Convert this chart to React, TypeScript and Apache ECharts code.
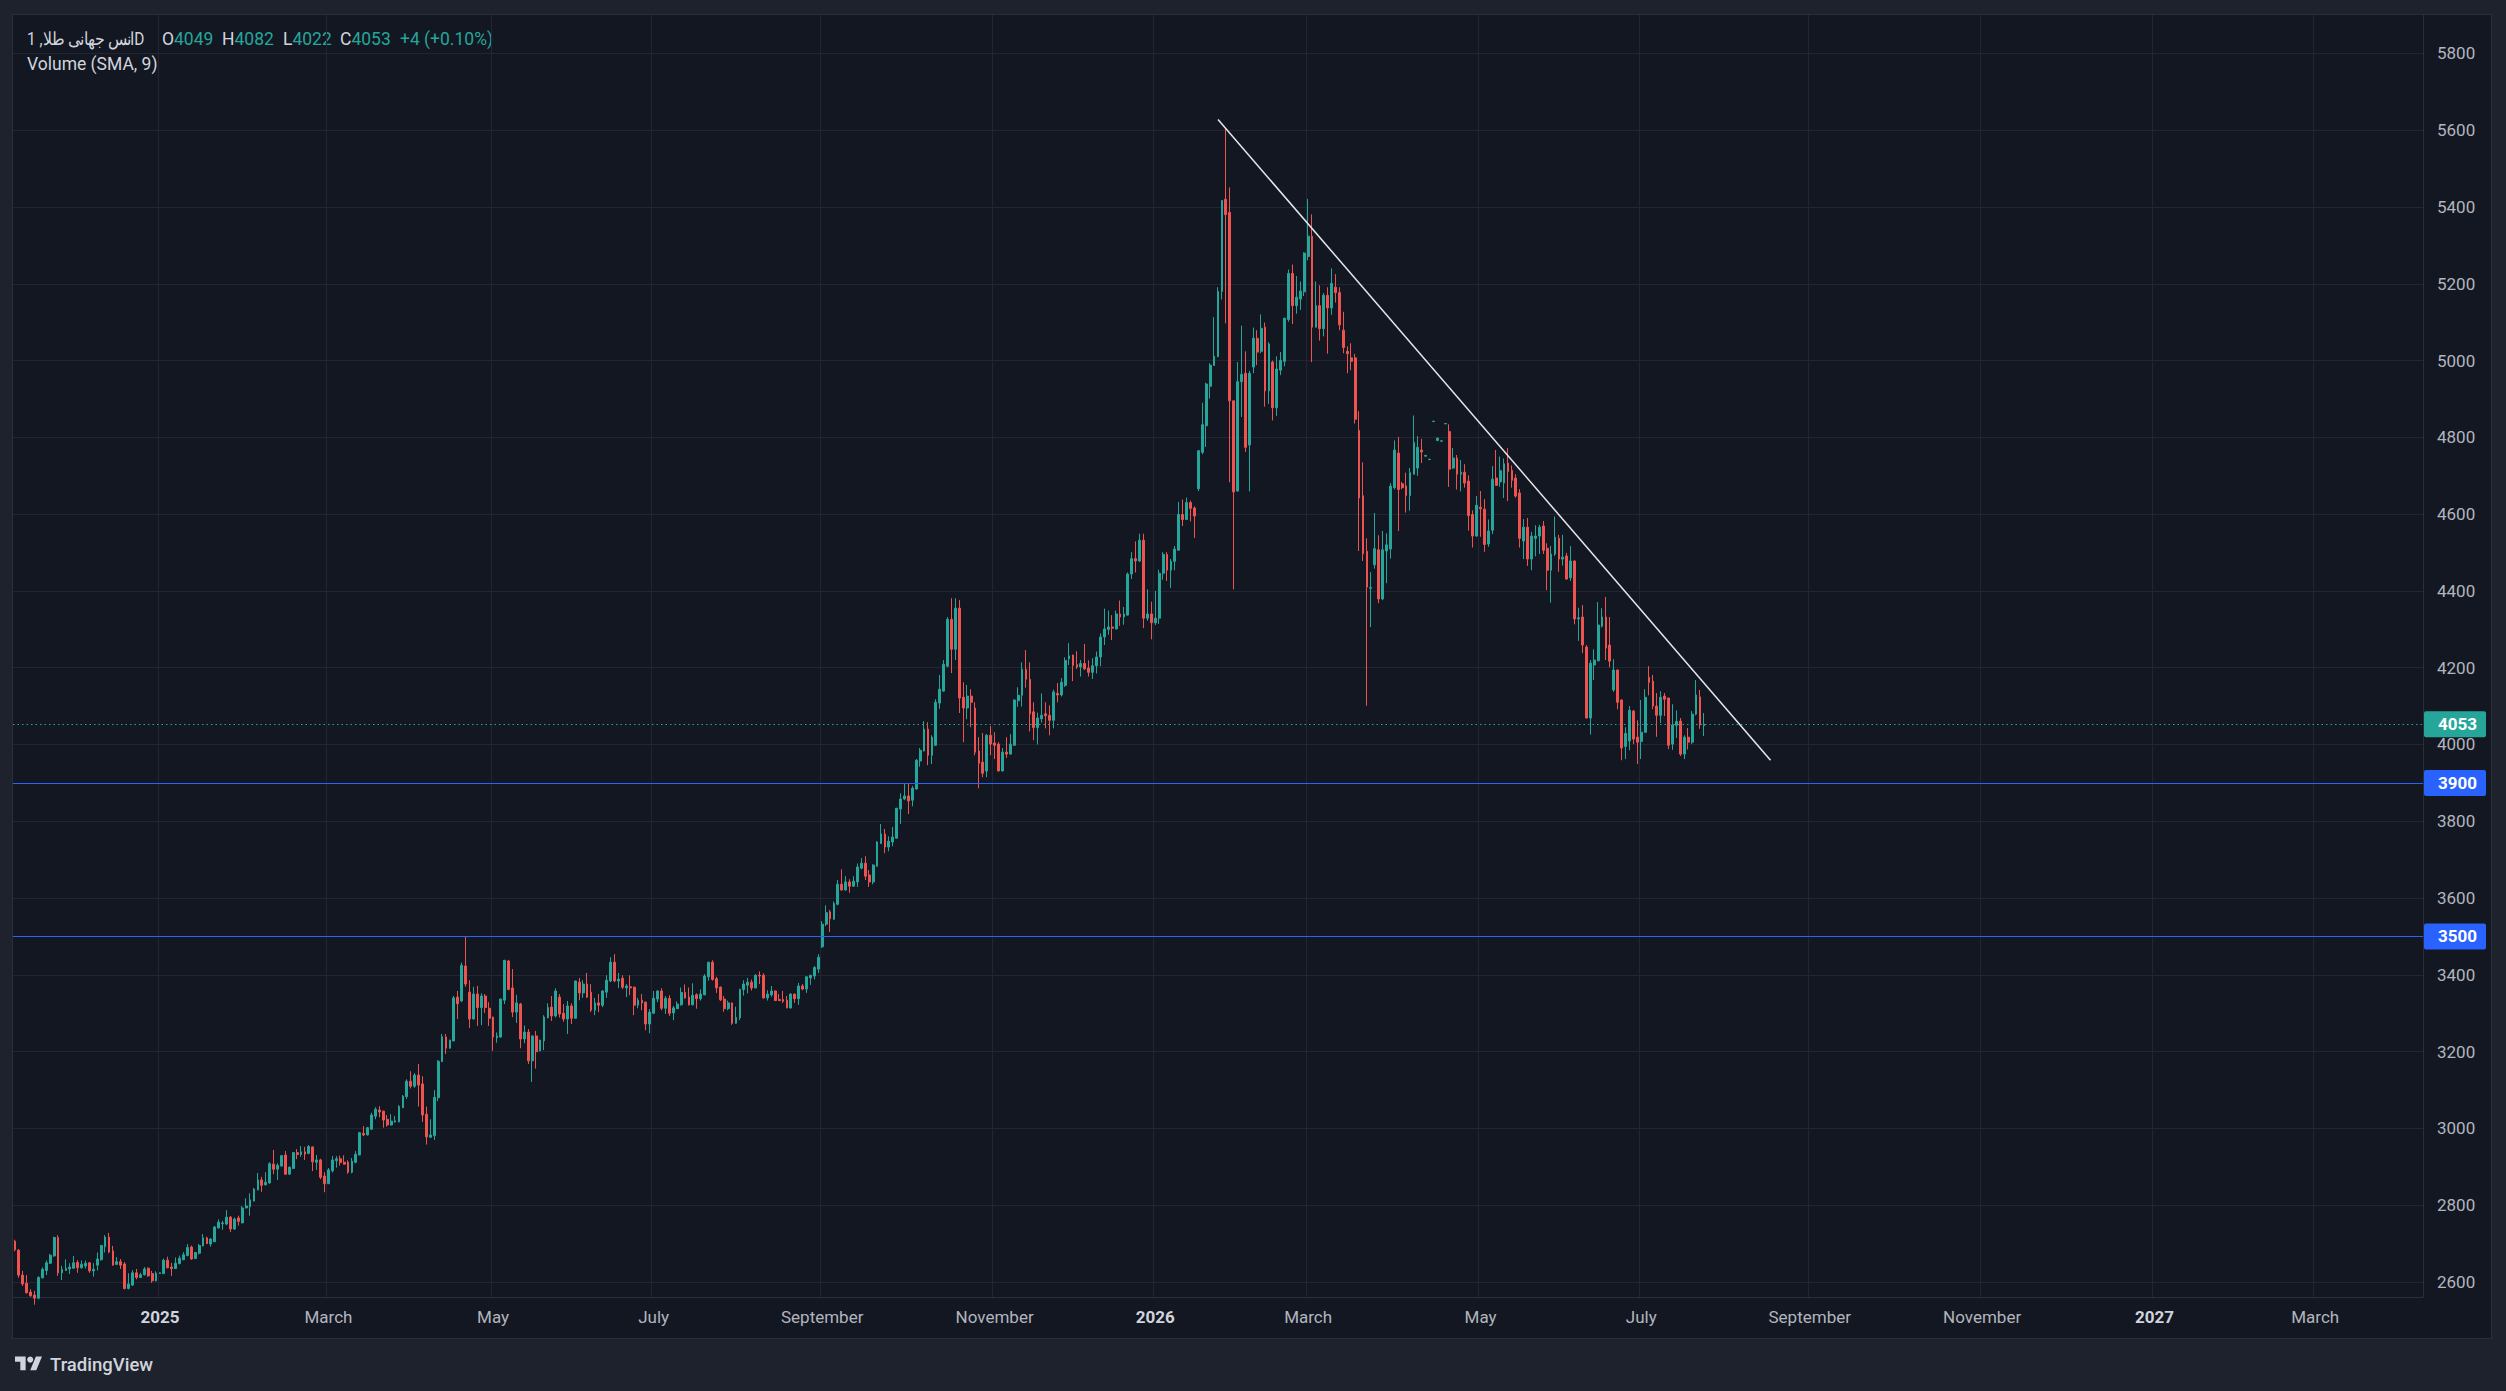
import React, { useEffect, useRef } from "react";
import * as echarts from "echarts";

// [open, high, low, close] per daily bar, index 0 = first (partial) bar at left edge
const CANDLES_A: number[][] = [
  [2706, 2710, 2680, 2684], [2683, 2686, 2611, 2618], [2618, 2629, 2590, 2595], [2597, 2618, 2570, 2572],
  [2574, 2581, 2562, 2564], [2566, 2577, 2541, 2558], [2558, 2615, 2555, 2612], [2611, 2638, 2609, 2633],
  [2630, 2656, 2618, 2650], [2649, 2673, 2647, 2670], [2668, 2718, 2666, 2716], [2716, 2722, 2616, 2624],
  [2624, 2642, 2605, 2633], [2630, 2659, 2629, 2636], [2634, 2649, 2621, 2639], [2636, 2668, 2635, 2650],
  [2651, 2657, 2624, 2637], [2637, 2656, 2635, 2646], [2642, 2656, 2635, 2649], [2650, 2652, 2624, 2629],
  [2629, 2649, 2614, 2633], [2644, 2677, 2630, 2660], [2658, 2697, 2656, 2695], [2692, 2722, 2677, 2717],
  [2717, 2728, 2675, 2678], [2681, 2694, 2643, 2644], [2646, 2665, 2644, 2653], [2653, 2660, 2634, 2644],
  [2647, 2652, 2581, 2583], [2583, 2623, 2581, 2595], [2592, 2631, 2590, 2624], [2624, 2634, 2607, 2612],
  [2612, 2624, 2611, 2619], [2619, 2639, 2617, 2634], [2636, 2638, 2614, 2616], [2622, 2629, 2598, 2603],
  [2603, 2628, 2602, 2623], [2622, 2625, 2621, 2624], [2622, 2661, 2621, 2657], [2657, 2666, 2636, 2637],
  [2639, 2650, 2616, 2635], [2635, 2664, 2634, 2649], [2648, 2669, 2646, 2662], [2658, 2678, 2657, 2671],
  [2669, 2699, 2667, 2690], [2691, 2695, 2658, 2660], [2661, 2678, 2660, 2677], [2675, 2699, 2672, 2695],
  [2694, 2725, 2693, 2715], [2715, 2718, 2699, 2700], [2699, 2714, 2692, 2712], [2705, 2746, 2704, 2743],
  [2741, 2763, 2739, 2756], [2752, 2759, 2736, 2754], [2751, 2787, 2748, 2769], [2769, 2772, 2730, 2738],
  [2738, 2768, 2736, 2764], [2767, 2773, 2747, 2758], [2754, 2798, 2753, 2793], [2793, 2818, 2792, 2798],
  [2796, 2831, 2773, 2814], [2811, 2845, 2810, 2842], [2840, 2884, 2839, 2866], [2866, 2874, 2835, 2852],
  [2853, 2886, 2852, 2860], [2858, 2912, 2856, 2908], [2907, 2944, 2881, 2894], [2894, 2909, 2866, 2904],
  [2902, 2931, 2901, 2929], [2931, 2941, 2879, 2881], [2881, 2901, 2879, 2899], [2896, 2939, 2894, 2937],
  [2937, 2946, 2920, 2932], [2932, 2954, 2926, 2939], [2939, 2952, 2918, 2933], [2935, 2957, 2933, 2953],
  [2952, 2953, 2889, 2913], [2912, 2931, 2892, 2918], [2918, 2921, 2868, 2873], [2876, 2886, 2834, 2856],
  [2856, 2897, 2856, 2892], [2890, 2928, 2885, 2918], [2916, 2928, 2898, 2921], [2921, 2929, 2903, 2911],
  [2912, 2930, 2906, 2907], [2912, 2917, 2882, 2886],
];

const CANDLES_B: number[][] = [
  [2886, 2923, 2883, 2915], [2912, 2941, 2909, 2933], [2931, 2991, 2930, 2989], [2987, 3006, 2980, 2983],
  [2983, 3004, 2982, 3002], [2998, 3041, 2996, 3035], [3032, 3055, 3024, 3050], [3048, 3058, 3029, 3043],
  [3045, 3046, 3002, 3022], [3024, 3035, 3005, 3009], [3009, 3037, 3008, 3019], [3017, 3032, 3015, 3020],
  [3017, 3061, 3016, 3057], [3054, 3087, 3053, 3084], [3083, 3128, 3077, 3123], [3123, 3149, 3104, 3110],
  [3110, 3144, 3106, 3139], [3139, 3168, 3057, 3113], [3116, 3136, 3017, 3035], [3037, 3057, 2958, 2978],
  [2977, 3024, 2975, 2983], [2981, 3100, 2970, 3081], [3080, 3178, 3071, 3175], [3174, 3246, 3173, 3239],
  [3238, 3246, 3194, 3209], [3209, 3231, 3208, 3230], [3228, 3345, 3227, 3340], [3342, 3358, 3285, 3325],
  [3332, 3432, 3329, 3425], [3423, 3501, 3369, 3376], [3355, 3386, 3262, 3285], [3285, 3369, 3284, 3350],
  [3350, 3371, 3267, 3315], [3315, 3352, 3269, 3345], [3345, 3350, 3301, 3315], [3313, 3329, 3267, 3287],
  [3290, 3291, 3202, 3238], [3236, 3250, 3223, 3241], [3238, 3338, 3237, 3337], [3334, 3439, 3324, 3438],
  [3436, 3439, 3360, 3362], [3366, 3415, 3290, 3303], [3303, 3348, 3275, 3327], [3324, 3327, 3209, 3233],
  [3233, 3268, 3222, 3251], [3251, 3259, 3168, 3176], [3176, 3242, 3121, 3241], [3241, 3254, 3156, 3200],
  [3202, 3231, 3201, 3230], [3228, 3295, 3204, 3290], [3288, 3326, 3287, 3315], [3316, 3345, 3280, 3293],
  [3293, 3365, 3289, 3358], [3342, 3350, 3289, 3298], [3300, 3324, 3278, 3285], [3285, 3332, 3246, 3319],
  [3319, 3326, 3272, 3287], [3287, 3385, 3286, 3384], [3381, 3392, 3334, 3353], [3353, 3386, 3340, 3376],
  [3376, 3405, 3340, 3342], [3355, 3376, 3303, 3308], [3308, 3340, 3295, 3327], [3327, 3350, 3303, 3321],
  [3321, 3360, 3316, 3358], [3355, 3399, 3340, 3386], [3384, 3446, 3381, 3433], [3433, 3454, 3381, 3384],
  [3384, 3405, 3366, 3389], [3391, 3399, 3363, 3368], [3366, 3376, 3342, 3371], [3369, 3399, 3347, 3366],
  [3368, 3369, 3295, 3321], [3321, 3340, 3313, 3334], [3334, 3350, 3308, 3327], [3329, 3330, 3256, 3272],
  [3272, 3311, 3248, 3303], [3300, 3358, 3299, 3339], [3337, 3360, 3329, 3358], [3358, 3365, 3308, 3313],
  [3313, 3345, 3298, 3339], [3339, 3347, 3293, 3300],
];

const CANDLES_C: number[][] = [
  [3301, 3319, 3282, 3314], [3312, 3331, 3311, 3324], [3322, 3367, 3320, 3354], [3354, 3375, 3338, 3340],
  [3342, 3367, 3320, 3322], [3322, 3378, 3321, 3347], [3348, 3352, 3312, 3338], [3338, 3362, 3333, 3350],
  [3348, 3402, 3347, 3397], [3395, 3434, 3385, 3433], [3433, 3438, 3385, 3388], [3390, 3395, 3353, 3366],
  [3368, 3370, 3332, 3335], [3337, 3345, 3304, 3312], [3312, 3333, 3308, 3327], [3327, 3328, 3270, 3274],
  [3274, 3317, 3273, 3289], [3288, 3364, 3282, 3362], [3362, 3386, 3346, 3376], [3373, 3392, 3352, 3381],
  [3381, 3388, 3359, 3366], [3366, 3402, 3365, 3399], [3399, 3409, 3376, 3397], [3399, 3404, 3338, 3340],
  [3340, 3360, 3333, 3350], [3348, 3371, 3343, 3358], [3358, 3359, 3332, 3333], [3336, 3350, 3332, 3333],
  [3336, 3358, 3327, 3331], [3334, 3345, 3313, 3314], [3314, 3352, 3312, 3350], [3350, 3351, 3327, 3338],
  [3338, 3379, 3322, 3371], [3371, 3376, 3360, 3363], [3363, 3396, 3353, 3395], [3392, 3400, 3374, 3399],
  [3397, 3423, 3388, 3419], [3415, 3454, 3405, 3446], [3473, 3540, 3470, 3532], [3532, 3581, 3527, 3562],
  [3564, 3569, 3512, 3546], [3545, 3591, 3543, 3586], [3584, 3647, 3581, 3636], [3636, 3675, 3620, 3621],
  [3621, 3657, 3620, 3642], [3642, 3649, 3614, 3631], [3631, 3657, 3629, 3644], [3642, 3690, 3629, 3681],
  [3678, 3704, 3675, 3691], [3691, 3709, 3647, 3657], [3660, 3673, 3629, 3642], [3642, 3688, 3636, 3686],
  [3683, 3748, 3682, 3746], [3742, 3793, 3741, 3767], [3767, 3780, 3717, 3733], [3733, 3761, 3722, 3748],
  [3746, 3785, 3735, 3759], [3756, 3835, 3755, 3834], [3832, 3873, 3793, 3858], [3858, 3897, 3855, 3866],
  [3866, 3897, 3819, 3853], [3855, 3892, 3839, 3886], [3884, 3962, 3883, 3959], [3957, 3991, 3942, 3985],
  [3983, 4061, 3982, 4040], [4040, 4058, 3946, 3972], [3972, 4024, 3949, 4019], [3998, 4118, 3996, 4110],
  [4108, 4181, 4093, 4144], [4139, 4220, 4138, 4209], [4204, 4332, 4201, 4326], [4326, 4381, 4186, 4248],
  [4248, 4381, 4220, 4355], [4355, 4376, 4082, 4121], [4123, 4162, 4006, 4095], [4095, 4155, 4066, 4126],
  [4126, 4144, 4045, 4110], [4095, 4110, 3972, 3980], [3983, 4019, 3886, 3951], [3954, 4030, 3915, 3925],
  [3931, 4027, 3915, 4024], [4024, 4048, 3972, 4001], [4004, 4032, 3962, 3998], [4001, 4006, 3930, 3931],
  [3931, 3991, 3930, 3980], [3980, 4019, 3965, 3975], [3975, 4027, 3974, 4001], [3998, 4117, 3997, 4116],
  [4114, 4149, 4098, 4128],
];

const CANDLES_D: number[][] = [
  [4128, 4214, 4099, 4196], [4196, 4246, 4148, 4170], [4170, 4214, 4034, 4080], [4085, 4110, 4011, 4044],
  [4044, 4083, 4000, 4069], [4067, 4133, 4057, 4076], [4080, 4110, 4042, 4075], [4076, 4102, 4024, 4063],
  [4063, 4143, 4042, 4137], [4133, 4160, 4110, 4129], [4129, 4173, 4125, 4162], [4154, 4227, 4150, 4219],
  [4223, 4264, 4207, 4231], [4233, 4234, 4165, 4206], [4208, 4243, 4197, 4202], [4202, 4220, 4177, 4211],
  [4211, 4262, 4194, 4197], [4199, 4219, 4177, 4188], [4188, 4225, 4171, 4205], [4205, 4242, 4185, 4228],
  [4228, 4289, 4204, 4280], [4280, 4354, 4259, 4301], [4300, 4349, 4286, 4306], [4306, 4337, 4272, 4303],
  [4301, 4349, 4300, 4340], [4340, 4375, 4309, 4332], [4332, 4358, 4312, 4340], [4337, 4448, 4336, 4444],
  [4444, 4501, 4431, 4484], [4484, 4529, 4448, 4478], [4478, 4549, 4475, 4532], [4532, 4549, 4303, 4329],
  [4329, 4404, 4322, 4340], [4340, 4372, 4274, 4317], [4317, 4400, 4311, 4329], [4329, 4455, 4314, 4446],
  [4446, 4501, 4429, 4495], [4495, 4501, 4426, 4454], [4454, 4483, 4408, 4477], [4477, 4517, 4454, 4509],
  [4506, 4632, 4505, 4599], [4599, 4638, 4569, 4586], [4586, 4643, 4585, 4630], [4630, 4635, 4581, 4615],
  [4616, 4620, 4538, 4595], [4666, 4767, 4660, 4765], [4761, 4890, 4756, 4833], [4830, 4942, 4775, 4939],
  [4933, 4993, 4901, 4988], [4987, 5113, 4986, 5011], [5010, 5191, 5009, 5180], [5180, 5418, 5159, 5417],
  [5420, 5604, 5097, 5380], [5386, 5451, 4683, 4895], [4895, 4896, 4404, 4658], [4660, 4996, 4659, 4945],
  [4945, 5091, 4853, 4964],
];

const CANDLES_E: number[][] = [
  [4967, 5024, 4762, 4774], [4780, 4973, 4659, 4967], [4983, 5086, 4967, 5058], [5058, 5079, 4988, 5022],
  [5024, 5120, 5019, 5084], [5087, 5099, 4880, 4921], [4921, 5048, 4887, 5043], [4996, 5000, 4844, 4877],
  [4877, 5011, 4856, 4978], [4975, 5022, 4962, 5000], [4998, 5112, 4985, 5110], [5107, 5237, 5101, 5227],
  [5227, 5250, 5095, 5143], [5143, 5220, 5122, 5165], [5160, 5206, 5132, 5181], [5179, 5282, 5168, 5280],
  [5271, 5421, 5261, 5324], [5324, 5381, 4996, 5087], [5087, 5206, 5086, 5143], [5143, 5196, 5052, 5083],
  [5083, 5176, 5063, 5170], [5170, 5191, 5018, 5137], [5137, 5240, 5119, 5201], [5191, 5225, 5151, 5177],
  [5177, 5191, 5079, 5093], [5079, 5127, 5019, 5034], [5024, 5037, 4967, 5018], [5007, 5045, 4975, 4998],
  [5007, 5017, 4836, 4847], [4818, 4868, 4504, 4642], [4648, 4735, 4478, 4497], [4503, 4537, 4101, 4410],
  [4407, 4449, 4306, 4409], [4468, 4603, 4458, 4510], [4507, 4545, 4368, 4379], [4379, 4556, 4376, 4507],
  [4504, 4550, 4420, 4520], [4509, 4681, 4484, 4673], [4669, 4792, 4664, 4767], [4759, 4801, 4556, 4664],
  [4679, 4684, 4665, 4669], [4673, 4708, 4604, 4648], [4648, 4720, 4609, 4708], [4704, 4857, 4703, 4787],
  [4720, 4803, 4700, 4774], [4767, 4796, 4733, 4762], [4751, 4753, 4750, 4753], [4742, 4743, 4741, 4743],
  [4841, 4843, 4841, 4842], [4792, 4799, 4790, 4798], [4790, 4791, 4789, 4791], [4835, 4837, 4835, 4836],
  [4815, 4834, 4671, 4717], [4720, 4772, 4718, 4746], [4746, 4754, 4664, 4704], [4704, 4741, 4659, 4709],
];

const CANDLES_F: number[][] = [
  [4709, 4730, 4669, 4681], [4686, 4701, 4557, 4596], [4599, 4610, 4513, 4543], [4543, 4647, 4541, 4623],
  [4618, 4660, 4541, 4614], [4613, 4639, 4502, 4521], [4522, 4586, 4515, 4556], [4558, 4725, 4548, 4691],
  [4694, 4767, 4674, 4675], [4684, 4750, 4671, 4713], [4681, 4745, 4642, 4731], [4733, 4772, 4634, 4711],
  [4714, 4727, 4669, 4688], [4694, 4704, 4643, 4647], [4655, 4665, 4513, 4537], [4530, 4587, 4483, 4566],
  [4566, 4590, 4465, 4483], [4483, 4554, 4454, 4543], [4537, 4571, 4490, 4543], [4543, 4572, 4496, 4566],
  [4569, 4582, 4496, 4506], [4511, 4524, 4402, 4454], [4454, 4517, 4369, 4496], [4496, 4594, 4491, 4540],
  [4537, 4546, 4450, 4483], [4483, 4546, 4466, 4488], [4491, 4499, 4429, 4431], [4434, 4517, 4426, 4478],
  [4478, 4479, 4313, 4327], [4327, 4356, 4270, 4330], [4332, 4363, 4238, 4259], [4254, 4259, 4068, 4069],
  [4069, 4220, 4026, 4212], [4207, 4248, 4168, 4220], [4218, 4371, 4217, 4311], [4308, 4355, 4305, 4332],
  [4332, 4384, 4220, 4251], [4259, 4332, 4201, 4217], [4142, 4222, 4137, 4194], [4194, 4195, 4092, 4110],
  [4116, 4117, 3959, 3991], [3995, 4045, 3962, 4029], [4009, 4100, 3985, 4089], [4087, 4090, 4001, 4014],
  [4019, 4063, 3949, 4006], [4008, 4116, 3962, 4032], [4032, 4144, 4031, 4123], [4175, 4204, 4128, 4162],
  [4165, 4181, 4092, 4100], [4100, 4134, 4020, 4076], [4076, 4139, 4056, 4123], [4126, 4134, 4074, 4118],
  [4121, 4122, 3988, 3998], [4001, 4105, 3986, 4051], [4050, 4089, 4017, 4060], [4061, 4069, 3970, 3975],
  [3975, 4024, 3962, 4019], [4019, 4043, 3987, 4006], [4006, 4087, 4001, 4079], [4079, 4168, 4076, 4129],
  [4124, 4142, 4041, 4051], [4049, 4082, 4022, 4053],
];

const CANDLES = [...CANDLES_A, ...CANDLES_B, ...CANDLES_C, ...CANDLES_D, ...CANDLES_E, ...CANDLES_F];

// time slots (bars + projected future bars) shown on the axis
const SLOT_COUNT = 615;
const CATEGORIES = Array.from({ length: SLOT_COUNT }, (_, i) => String(i));

// month labels: slot index and text
const X_TICK_INDEX = [37, 80, 122, 163, 206, 250, 291, 330, 374, 415, 458, 502, 546, 587];
const X_TICK_LABELS = ["2025", "March", "May", "July", "September", "November", "2026", "March", "May", "July", "September", "November", "2027", "March"];

const Y_TICKS = [2600, 2800, 3000, 3200, 3400, 3600, 3800, 4000, 4200, 4400, 4600, 4800, 5000, 5200, 5400, 5600, 5800];
const Y_MIN = 2561;
const Y_MAX = 5900;

const LEVELS = [3900, 3500];
const LAST_PRICE = 4053;
const TREND_START = [307, 5628];
const TREND_END = [448, 3959];

const TITLE = "انس جهانی طلا, 1D";
const OHLC_TEXT = [
  { k: "O", v: "4049" },
  { k: "H", v: "4082" },
  { k: "L", v: "4022" },
  { k: "C", v: "4053" },
];
const CHANGE_TEXT = "+4 (+0.10%)";
const SUB_TITLE = "Volume (SMA, 9)";

const UP = "#26a69a";
const DOWN = "#ef5350";
const GRID = "#232632";
const TEXT = "#b2b5be";
const FONT = "Roboto, 'Noto Sans', sans-serif";
const LOGO_D = "M14 22H7V11H0V4h14v18zM28 22h-8l7.5-18h8L28 22z";

let logoRegistered = false;

export default function App() {
  const ref = useRef<HTMLDivElement>(null);

  useEffect(() => {
    if (!ref.current) return;
    if (!logoRegistered) {
      echarts.graphic.registerShape("tvlogo", echarts.graphic.extendPath(LOGO_D, {}));
      logoRegistered = true;
    }
    const chart = echarts.init(ref.current, null, { renderer: "svg" });
    const tickSet = new Set(X_TICK_INDEX);
    const labelOf = (i: number) => X_TICK_LABELS[X_TICK_INDEX.indexOf(i)];

    const levelLine = (v: number, color: string, dashed: boolean) => ({
      yAxis: v,
      lineStyle: { color, width: 1, type: dashed ? [1.5, 3] : "solid" },
      label: {
        show: true,
        position: "end",
        distance: 1,
        formatter: String(v),
        color: "#ffffff",
        backgroundColor: color,
        borderRadius: 2,
        padding: [5, 9, 4, 14],
        fontSize: 17,
        fontWeight: "bold",
        fontFamily: FONT,
      },
    });

    const LF = `17.5px ${FONT}`;
    const legendX = [162, 222, 283, 340];
    const graphic: any[] = [
      {
        type: "text", x: 27, y: 39, scaleX: 0.88,
        style: { text: TITLE, fill: "#d1d4dc", font: LF, verticalAlign: "middle", align: "left" },
      },
      ...OHLC_TEXT.map((o, i) => ({
        type: "text", x: legendX[i], y: 39,
        style: {
          text: `${o.k}{v|${o.v}}`, fill: "#d1d4dc", font: LF, verticalAlign: "middle", align: "left",
          rich: { v: { fill: UP, font: LF } },
        },
      })),
      {
        type: "text", x: 400, y: 39,
        style: { text: CHANGE_TEXT, fill: UP, font: LF, verticalAlign: "middle", align: "left" },
      },
      {
        type: "text", x: 27, y: 64,
        style: { text: SUB_TITLE, fill: "#d1d4dc", font: LF, verticalAlign: "middle", align: "left" },
      },
      { type: "tvlogo", x: 15, y: 1353.5, scaleX: 0.76, scaleY: 0.76, style: { fill: "#d1d4dc" } },
      { type: "circle", shape: { cx: 15 + 20 * 0.76, cy: 1353.5 + 8 * 0.76, r: 4 * 0.76 }, style: { fill: "#d1d4dc" } },
      {
        type: "text", x: 50, y: 1365,
        style: { text: "TradingView", fill: "#d1d4dc", font: `500 18.5px ${FONT}`, verticalAlign: "middle", align: "left" },
      },
    ];

    const option: any = {
      animation: false,
      backgroundColor: "transparent",
      grid: { left: 13, top: 15, width: 2410, height: 1282, containLabel: false, outerBoundsMode: "none" },
      xAxis: {
        type: "category",
        data: CATEGORIES,
        boundaryGap: true,
        axisLine: { show: true, lineStyle: { color: "#2a2e39", width: 1 } },
        axisTick: { show: false },
        axisLabel: {
          interval: (i: number) => tickSet.has(i),
          formatter: (_v: string, i: number) => {
            const t = labelOf(i);
            if (!t) return "";
            return /^\d{4}$/.test(t) ? `{y|${t}}` : t;
          },
          color: TEXT,
          fontSize: 17,
          fontFamily: FONT,
          margin: 11,
          rich: { y: { color: "#d1d4dc", fontWeight: "bold", fontSize: 17, fontFamily: FONT } },
        },
        splitLine: { show: true, interval: (i: number) => tickSet.has(i), lineStyle: { color: GRID, width: 1 } },
      },
      yAxis: {
        type: "value",
        position: "right",
        min: Y_MIN,
        max: Y_MAX,
        scale: true,
        axisLine: { show: true, lineStyle: { color: "#2a2e39", width: 1 } },
        axisTick: { show: false, customValues: Y_TICKS },
        axisLabel: {
          customValues: Y_TICKS,
          formatter: (v: number) => String(Math.round(v)),
          color: TEXT, fontSize: 17, fontFamily: FONT, margin: 14, align: "left",
        },
        splitLine: { show: true, lineStyle: { color: GRID, width: 1 } },
      },
      series: [
        {
          type: "candlestick",
          data: CANDLES.map(([o, h, l, c]) => [o, c, l, h]),
          barWidth: 2.3,
          clip: true,
          itemStyle: { color: UP, color0: DOWN, borderColor: UP, borderColor0: DOWN, borderColorDoji: UP, borderWidth: 1 },
          markLine: {
            silent: true,
            symbol: ["none", "none"],
            animation: false,
            data: [
              levelLine(LEVELS[0], "#2962ff", false),
              levelLine(LEVELS[1], "#2962ff", false),
              levelLine(LAST_PRICE, UP, true),
              [
                { coord: TREND_START, lineStyle: { color: "#e6e8ee", width: 1.5, type: "solid" }, label: { show: false } },
                { coord: TREND_END },
              ],
            ],
          },
        },
      ],
      graphic,
    };
    chart.setOption(option);
    return () => chart.dispose();
  }, []);

  return (
    <div style={{ position: "fixed", left: 0, top: 0, width: 2506, height: 1391, background: "#1e222d", overflow: "hidden" }}>
      <div style={{ position: "absolute", left: 13, top: 15, width: 2478, height: 1323, background: "#131722", boxShadow: "0 0 0 1px #2a2e39" }} />
      <div ref={ref} style={{ position: "absolute", left: 0, top: 0, width: 2506, height: 1391 }} />
    </div>
  );
}
